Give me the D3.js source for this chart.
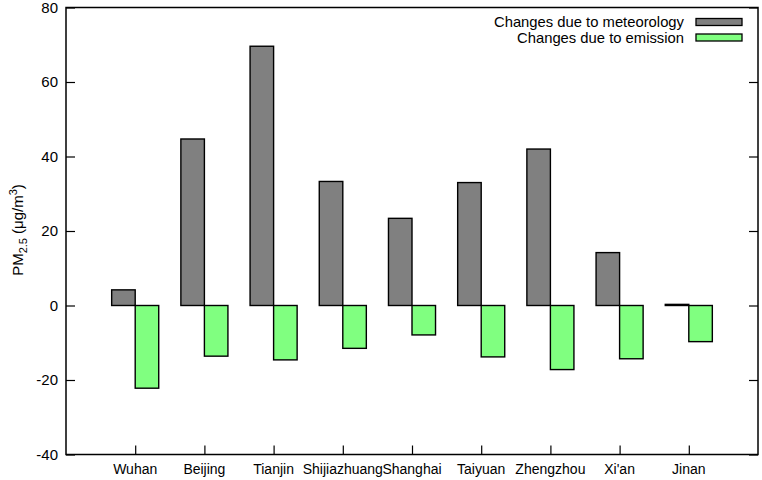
<!DOCTYPE html>
<html><head><meta charset="utf-8">
<script src="https://cdn.jsdelivr.net/npm/d3@7"></script>
<style>body{margin:0;background:#fff}svg{display:block;font-family:"Liberation Sans",Arial,sans-serif}</style>
</head><body><svg id="c" width="762" height="480"></svg>
<script>
const cities = ["Wuhan","Beijing","Tianjin","Shijiazhuang","Shanghai","Taiyuan","Zhengzhou","Xi'an","Jinan"];
const meteorology = [4.2,44.7,69.6,33.3,23.4,33.0,42.0,14.2,0.3];
const emission = [-22.2,-13.6,-14.6,-11.5,-7.9,-13.8,-17.2,-14.3,-9.7];
const yTicks = [-40,-20,0,20,40,60,80];
const seriesNames = ["Changes due to meteorology","Changes due to emission"];
const seriesColors = ["#808080","#80ff80"];

const svg = d3.select("#c");
const L=66, R=758, T=7.5, B=454.5;
const x = d3.scaleLinear().domain([-1,9]).range([L,R]);
const y = d3.scaleLinear().domain([-40,80]).range([B,T]);
const bw = 0.34;
const fs = "15px";

// bars
const g = svg.append("g");
[meteorology, emission].forEach((vals, s) => {
  g.selectAll(null).data(vals).enter().append("rect")
    .attr("x", (d,i) => s===0 ? x(i-bw) : x(i))
    .attr("width", x(bw)-x(0))
    .attr("y", d => y(Math.max(0,d)))
    .attr("height", d => Math.abs(y(d)-y(0)))
    .attr("fill", seriesColors[s])
    .attr("stroke", "#000").attr("stroke-width", 1.4);
});

// y axis left (ticks inward) and mirrored on right
const yl = svg.append("g").attr("transform", `translate(${L},0)`)
  .call(d3.axisRight(y).tickValues(yTicks).tickSize(9).tickFormat(""));
const yr = svg.append("g").attr("transform", `translate(${R},0)`)
  .call(d3.axisLeft(y).tickValues(yTicks).tickSize(9).tickFormat(""));
[yl,yr].forEach(a=>{a.select(".domain").remove();a.selectAll("line").attr("stroke","#000").attr("stroke-width",1.2);});
svg.append("g").selectAll("text").data(yTicks).enter().append("text")
  .attr("x", L-8).attr("y", d=>y(d)).attr("dy","0.35em")
  .attr("text-anchor","end").attr("font-size",fs).text(d=>d);

// x axis ticks inward at bottom
const xa = svg.append("g").attr("transform", `translate(0,${B})`)
  .call(d3.axisTop(x).tickValues(d3.range(cities.length)).tickSize(9).tickFormat(""));
xa.select(".domain").remove();
xa.selectAll("line").attr("stroke","#000").attr("stroke-width",1.2);
svg.append("g").selectAll("text").data(cities).enter().append("text")
  .attr("x",(d,i)=>x(i)).attr("y",B+19)
  .attr("text-anchor","middle").attr("font-size","14px").text(d=>d);

// frame
svg.append("rect").attr("x",L).attr("y",T).attr("width",R-L).attr("height",B-T)
  .attr("fill","none").attr("stroke","#000").attr("stroke-width",1.5);

// y label
const yl2 = svg.append("text").attr("transform","translate(23,230) rotate(-90)")
  .attr("text-anchor","middle").attr("font-size",fs);
yl2.append("tspan").text("PM");
yl2.append("tspan").attr("font-size","11px").attr("dy","4").text("2.5");
yl2.append("tspan").attr("dy","-4").text(" (μg/m");
yl2.append("tspan").attr("font-size","11px").attr("dy","-6").text("3");
yl2.append("tspan").attr("dy","6").text(")");

// legend
seriesNames.forEach((n,i)=>{
  const cy = 22 + i*15.5;
  svg.append("text").attr("x",684).attr("y",cy).attr("dy","0.35em")
    .attr("text-anchor","end").attr("font-size","14.8px").text(n);
  svg.append("rect").attr("x",696).attr("y",cy-3.5).attr("width",46).attr("height",7)
    .attr("fill",seriesColors[i]).attr("stroke","#000").attr("stroke-width",1.3);
});
</script></body></html>
